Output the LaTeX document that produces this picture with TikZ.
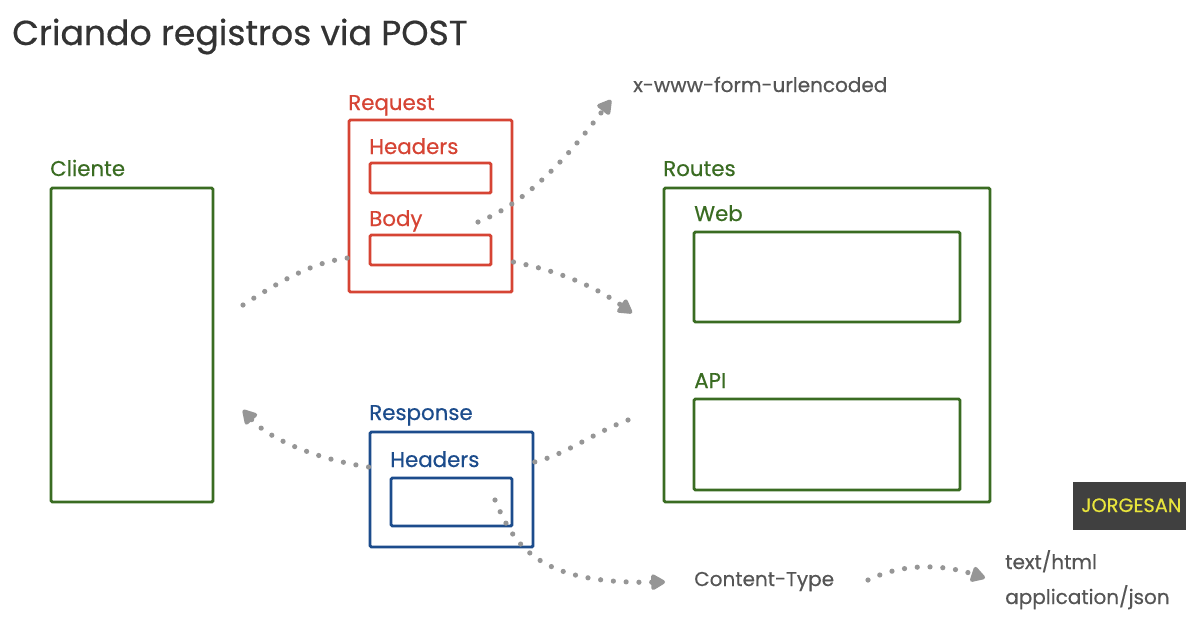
\documentclass[tikz,border=0pt]{standalone}
\usepackage{fontspec}
\setmainfont{Poppins}[FakeBold=0.5]
\usetikzlibrary{arrows.meta,fit}
\definecolor{cgreen}{RGB}{58,108,34}
\definecolor{cred}{RGB}{214,68,52}
\definecolor{cblue}{RGB}{28,76,140}
\definecolor{cdot}{RGB}{150,150,150}
\definecolor{ctitle}{RGB}{51,51,51}
\definecolor{ctext}{RGB}{85,85,85}
\definecolor{wmbg}{RGB}{64,64,64}
\definecolor{wmtext}{RGB}{232,228,60}
\tikzset{
  box/.style={draw, line width=2.2pt, inner sep=0pt, rounded corners=1pt},
  gbox/.style={box, draw=cgreen},
  rbox/.style={box, draw=cred},
  bbox/.style={box, draw=cblue},
  lbl/.style={anchor=base west, inner sep=0pt, font=\fontsize{16}{19}\selectfont},
  glbl/.style={lbl, text=cgreen},
  rlbl/.style={lbl, text=cred},
  blbl/.style={lbl, text=cblue},
  tlbl/.style={lbl, text=ctext, font=\fontsize{15}{18}\selectfont},
  dotline/.style={draw=cdot, line width=3.9pt, line cap=round, dash pattern=on 0pt off 9.6pt},
  dotarrow/.style={dotline, -{Triangle[length=12pt,width=13pt,round]}},
}
\begin{document}
\begin{tikzpicture}[x=0.75pt,y=-0.75pt]
\useasboundingbox[fill=white] (0,0) rectangle (1186,622);
% title
\node[anchor=base west, inner sep=0pt, text=ctitle, font=\fontsize{26}{30}\selectfont] (title) at (12,45) {Criando registros via POST};
% Cliente
\node[glbl] (lcliente) at (50,176) {Cliente};
\node[gbox, fit={(51,188) (213,502)}] (cliente) {};
% Request
\node[rlbl] (lrequest) at (348,110) {Request};
\node[rbox, fit={(349,120) (512,292)}] (request) {};
\node[rlbl] (lreqheaders) at (369,154) {Headers};
\node[rbox, fit={(370,163) (491,193)}] (reqheaders) {};
\node[rlbl] (lbody) at (369,226) {Body};
\node[rbox, fit={(370,235) (491,265)}] (body) {};
% Routes
\node[glbl] (lroutes) at (663,176) {Routes};
\node[gbox, fit={(664,188) (990,502)}] (routes) {};
\node[glbl] (lweb) at (694,221) {Web};
\node[gbox, fit={(694,232) (960,322)}] (web) {};
\node[glbl] (lapi) at (694,388) {API};
\node[gbox, fit={(694,399) (960,490)}] (api) {};
% Response
\node[blbl] (lresponse) at (369,420) {Response};
\node[bbox, fit={(370,432) (533,547)}] (response) {};
\node[blbl] (lrespheaders) at (390,467) {Headers};
\node[bbox, fit={(391,478) (512,526)}] (respheaders) {};
% gray texts
\node[tlbl] (urlenc) at (633,92) {x-www-form-urlencoded};
\node[tlbl] (ctype) at (694,586) {Content-Type};
\node[tlbl] (thtml) at (1005,569) {text/html};
\node[tlbl] (ajson) at (1005,604) {application/json};
% watermark
\node[fill=wmbg, minimum width=85pt, minimum height=36pt, anchor=north west, inner sep=0pt] (wm) at (1073,482) {};
\node[anchor=base west, inner sep=0pt, text=wmtext, font=\fontsize{14.5}{17}\selectfont] (wmt) at (1081,512) {JORGESAN};
% connector end points
\coordinate (c1s) at (243,305);
\coordinate (c2e) at (632,313);
\coordinate (c3s) at (478,222);
\coordinate (c3e) at (611,100);
\coordinate (c4s) at (628,420);
\coordinate (c5e) at (243,410);
\coordinate (c6s) at (495,500);
\coordinate (c6e) at (665,582);
\coordinate (c7s) at (868,580);
\coordinate (c7e) at (985,578);
% connectors
\draw[dotline] (c1s) .. controls (285,278) and (315,262) .. (request.west |- 0,258);
\draw[dotarrow] (request.east |- 0,262) .. controls (565,272) and (600,290) .. (c2e);
\draw[dotarrow] (c3s) .. controls (535,200) and (580,140) .. (c3e);
\draw[dotline] (c4s) .. controls (595,432) and (565,455) .. (response.east |- 0,462);
\draw[dotarrow] (response.west |- 0,467) .. controls (320,460) and (270,440) .. (c5e);
\draw[dotarrow] (c6s) .. controls (515,548) and (540,584) .. (c6e);
\draw[dotarrow] (c7s) .. controls (905,562) and (945,565) .. (c7e);
\end{tikzpicture}
\end{document}
